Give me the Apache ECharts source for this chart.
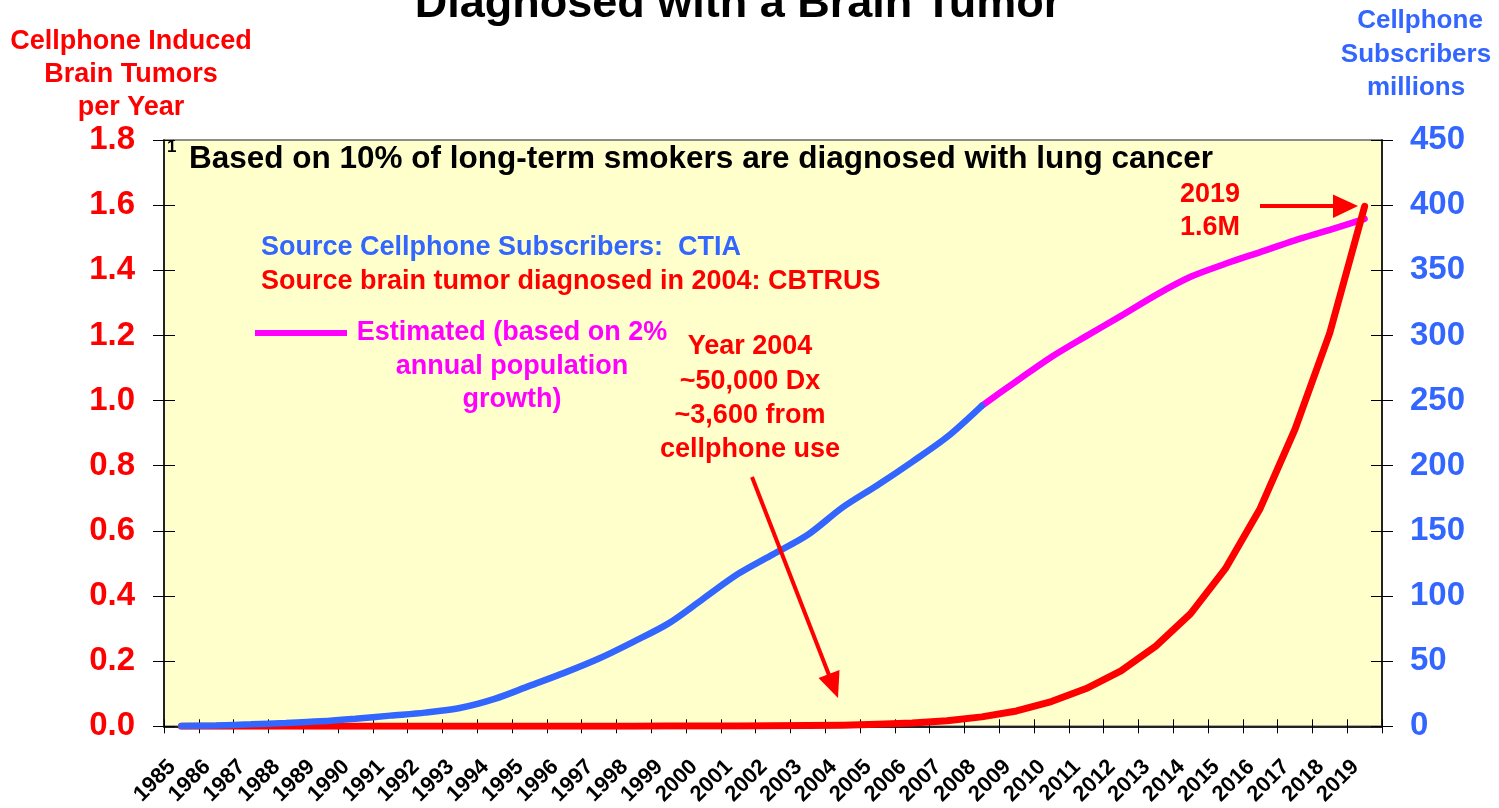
<!DOCTYPE html>
<html><head><meta charset="utf-8">
<script src="https://cdn.jsdelivr.net/npm/echarts@6/dist/echarts.min.js"></script>
<style>html,body{margin:0;padding:0;background:#fff}#c{width:1499px;height:808px}</style>
</head><body><div id="c"></div><script>
// ---- data ----
const years = ['1985','1986','1987','1988','1989','1990','1991','1992','1993','1994','1995','1996','1997','1998','1999','2000','2001','2002','2003','2004','2005','2006','2007','2008','2009','2010','2011','2012','2013','2014','2015','2016','2017','2018','2019'];
// Cellphone induced brain tumors per year (millions), left axis
const tumorsPerYearM = [0.000003,0.000005,0.000007,0.00001,0.000015,0.00002,0.00003,0.00004,0.00006,0.00009,0.00013,0.00019,0.00027,0.0004,0.00055,0.0008,0.0012,0.0017,0.0025,0.0036,0.006,0.010,0.017,0.029,0.047,0.076,0.116,0.170,0.246,0.346,0.484,0.669,0.912,1.208,1.596];
// Cellphone subscribers (millions), CTIA, 1985-2008
const subscribersM = [0.3,0.7,1.5,2.5,3.8,5.8,8.2,10.5,14,21,31,41,52,65,79,98,117,132,147,168,185,203,222,246];
// Estimated subscribers (millions), 2008-2019
const estimatedStart = '2008';
const subscribersEstM = [246,265,283.5,299.5,315,331,345,355,364,373,381,389.5];
// axis ticks
const leftTicks = [0,0.2,0.4,0.6,0.8,1.0,1.2,1.4,1.6,1.8];
const rightTicks = [0,50,100,150,200,250,300,350,400,450];

// ---- styling ----
const FF = '"Liberation Sans", Arial, sans-serif';
const RED = '#FF0000', BLUE = '#3366FF', MAG = '#FF00FF';

const blueData = years.map((y, i) => i < subscribersM.length ? subscribersM[i] : null);
const estIdx = years.indexOf(estimatedStart);
const magData = years.map((y, i) => i >= estIdx ? subscribersEstM[i - estIdx] : null);

function txt(text, x, y, size, color, align) {
  return {type: 'text', x: x, y: y, z: 100,
    style: {text: text, font: 'bold ' + size + 'px ' + FF, fill: color,
      align: align || 'center', verticalAlign: 'middle'}};
}

const graphics = [
  txt('Diagnosed with a Brain Tumor', 738, 5, 45, '#000'),
  txt('Cellphone Induced', 131, 42, 27, RED),
  txt('Brain Tumors', 131, 75, 27, RED),
  txt('per Year', 131, 108, 27, RED),
  txt('Cellphone', 1420, 21, 26, BLUE),
  txt('Subscribers', 1416, 55, 26, BLUE),
  txt('millions', 1416, 88, 26, BLUE),
  txt('1', 167, 147, 17, '#000', 'left'),
  txt('Based on 10% of long-term smokers are diagnosed with lung cancer', 189, 159, 31.5, '#000', 'left'),
  txt('Source Cellphone Subscribers:  CTIA', 261, 248, 27, BLUE, 'left'),
  txt('Source brain tumor diagnosed in 2004: CBTRUS', 261, 282, 27, RED, 'left'),
  txt('Estimated (based on 2%', 512, 333, 27, MAG),
  txt('annual population', 512, 367, 27, MAG),
  txt('growth)', 512, 400, 27, MAG),
  txt('Year 2004', 750, 347, 27, RED),
  txt('~50,000 Dx', 750, 382, 27, RED),
  txt('~3,600 from', 750, 416, 27, RED),
  txt('cellphone use', 750, 450, 27, RED),
  txt('2019', 1210, 195, 27, RED),
  txt('1.6M', 1210, 228, 27, RED),
  // legend-like estimated line
  {type: 'line', z: 100, shape: {x1: 255, y1: 333, x2: 347, y2: 333}, style: {stroke: MAG, lineWidth: 6}},
  // arrow 2004
  {type: 'line', z: 100, shape: {x1: 752, y1: 477, x2: 829, y2: 675}, style: {stroke: RED, lineWidth: 4}},
  {type: 'polygon', z: 100, shape: {points: [[838, 698], [839.5, 670], [818.5, 678]]}, style: {fill: RED}},
  // arrow 2019
  {type: 'line', z: 100, shape: {x1: 1260, y1: 206, x2: 1336, y2: 206}, style: {stroke: RED, lineWidth: 4}},
  {type: 'polygon', z: 100, shape: {points: [[1333, 194.5], [1358, 206], [1333, 218]]}, style: {fill: RED}}
];

const chart = echarts.init(document.getElementById('c'), null, {renderer: 'canvas'});
chart.setOption({
  animation: false,
  backgroundColor: '#fff',
  grid: {left: 164, right: 117, top: 140, bottom: 80, show: true,
    backgroundColor: '#FFFFCC', borderColor: '#8c8c8c', borderWidth: 2},
  xAxis: [
    {type: 'category', data: years, boundaryGap: true, position: 'bottom',
      axisLine: {lineStyle: {color: '#222', width: 2}},
      axisTick: {show: true, length: 7, interval: 0, lineStyle: {color: '#000', width: 1}},
      axisLabel: {rotate: 45, interval: 0, margin: 28, padding: [0, 13, 0, 0], fontFamily: FF, fontWeight: 'bold', fontSize: 22, color: '#000'},
      splitLine: {show: false}},
    {type: 'category', data: years, boundaryGap: true, position: 'bottom', offset: 0,
      axisLine: {show: false},
      axisTick: {show: true, inside: true, length: 7, interval: 0, lineStyle: {color: '#000', width: 1}},
      axisLabel: {show: false}, splitLine: {show: false}}
  ],
  yAxis: [
    {type: 'value', position: 'left', min: leftTicks[0], max: leftTicks[leftTicks.length - 1], interval: leftTicks[1] - leftTicks[0],
      axisLine: {show: true, lineStyle: {color: '#000', width: 1.5}},
      axisTick: {show: true, length: 11, lineStyle: {color: '#000', width: 1}},
      axisLabel: {margin: 29, fontFamily: FF, fontWeight: 'bold', fontSize: 33, color: RED,
        formatter: v => v.toFixed(1)},
      splitLine: {show: false}},
    {type: 'value', position: 'right', min: rightTicks[0], max: rightTicks[rightTicks.length - 1], interval: rightTicks[1] - rightTicks[0],
      axisLine: {show: true, lineStyle: {color: '#000', width: 1.5}},
      axisTick: {show: true, length: 11, lineStyle: {color: '#000', width: 1}},
      axisLabel: {margin: 28, fontFamily: FF, fontWeight: 'bold', fontSize: 33, color: BLUE},
      splitLine: {show: false}},
    {type: 'value', position: 'left', offset: 0, min: leftTicks[0], max: leftTicks[leftTicks.length - 1], interval: leftTicks[1] - leftTicks[0],
      axisLine: {show: false},
      axisTick: {show: true, inside: true, length: 11, lineStyle: {color: '#000', width: 1}},
      axisLabel: {show: false}, splitLine: {show: false}},
    {type: 'value', position: 'right', offset: 0, min: rightTicks[0], max: rightTicks[rightTicks.length - 1], interval: rightTicks[1] - rightTicks[0],
      axisLine: {show: false},
      axisTick: {show: true, inside: true, length: 11, lineStyle: {color: '#000', width: 1}},
      axisLabel: {show: false}, splitLine: {show: false}}
  ],
  series: [
    {type: 'line', name: 'Estimated subscribers', data: magData, xAxisIndex: 0, yAxisIndex: 1,
      smooth: 0.3, symbol: 'none', lineStyle: {color: MAG, width: 6.5, cap: 'round'}},
    {type: 'line', name: 'Brain tumors', data: tumorsPerYearM, xAxisIndex: 0, yAxisIndex: 0,
      smooth: false, symbol: 'none', lineStyle: {color: RED, width: 7, cap: 'round', join: 'round'}},
    {type: 'line', name: 'Subscribers', data: blueData, xAxisIndex: 0, yAxisIndex: 1,
      smooth: 0.3, symbol: 'none', lineStyle: {color: BLUE, width: 6.5, cap: 'round'}}
  ],
  graphic: graphics
});
</script></body></html>
